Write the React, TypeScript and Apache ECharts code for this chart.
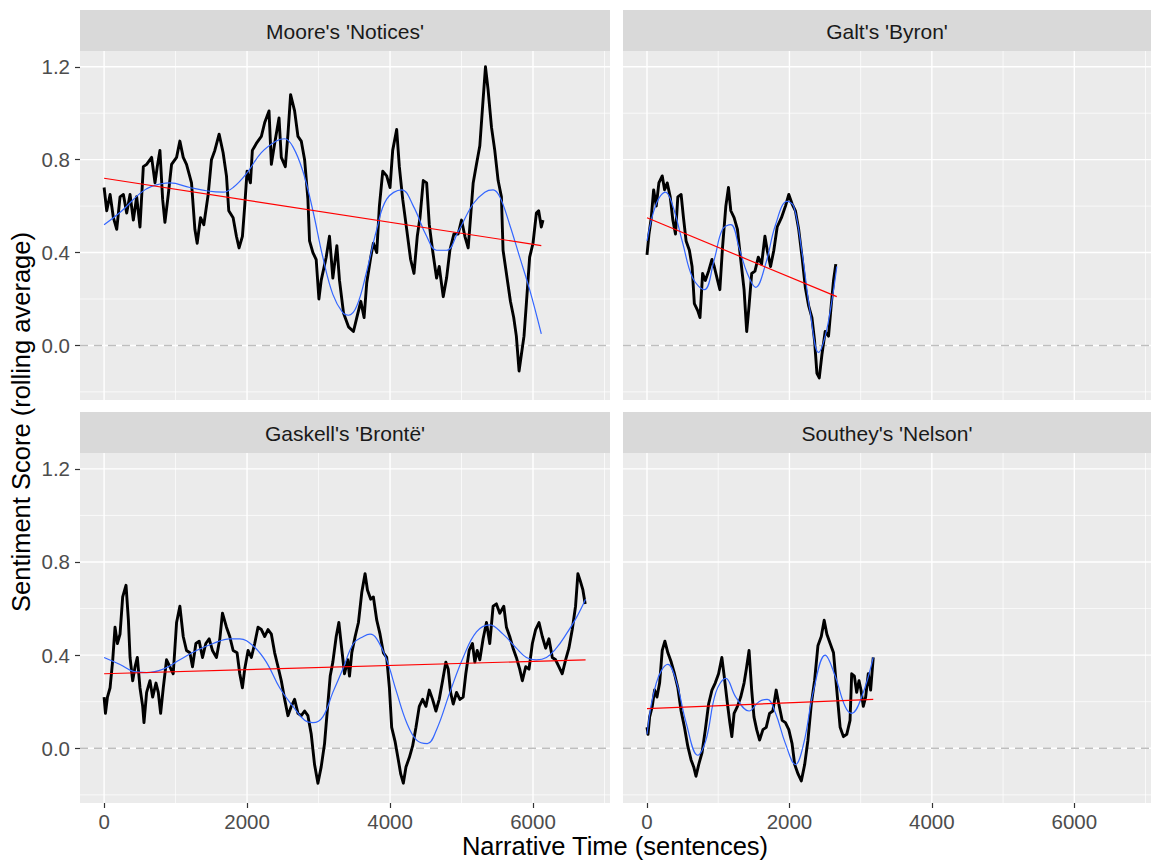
import React, { useEffect, useRef } from "react";
import * as echarts from "echarts";

type Pt = [number, number];

const panelTitles = ["Moore's 'Notices'", "Galt's 'Byron'", "Gaskell's 'Brontë'", "Southey's 'Nelson'"];
const xAxisTitle = "Narrative Time (sentences)";
const yAxisTitle = "Sentiment Score (rolling average)";

const xMajorTicks = [0, 2000, 4000, 6000];
const xMinorTicks = [1000, 3000, 5000, 7000];
const yMajorTicks = [0, 0.4, 0.8, 1.2];
const yMinorTicks = [-0.2, 0.2, 0.6, 1.0];
const X_MIN = -337;
const X_MAX = 7077;
const Y_MIN = -0.235;
const Y_MAX = 1.268;

// ---- Moore's 'Notices'
const mooreRolling: Pt[] = [
  [0, 0.68], [37, 0.58], [84, 0.65], [130, 0.55], [177, 0.5], [223, 0.64], [270, 0.65], [316, 0.57], [363, 0.65],
  [409, 0.54], [456, 0.64], [502, 0.51], [549, 0.77], [595, 0.78], [665, 0.81], [712, 0.7], [744, 0.77], [781, 0.84],
  [819, 0.63], [851, 0.53], [898, 0.65], [944, 0.78], [1014, 0.81], [1060, 0.88], [1107, 0.81], [1153, 0.78],
  [1223, 0.7], [1270, 0.5], [1302, 0.44], [1349, 0.55], [1395, 0.52], [1456, 0.65], [1502, 0.8], [1549, 0.84],
  [1609, 0.91], [1665, 0.83], [1712, 0.73], [1744, 0.58], [1805, 0.55], [1851, 0.47], [1888, 0.42], [1935, 0.47],
  [1967, 0.6], [2000, 0.75], [2047, 0.7], [2074, 0.84], [2130, 0.87], [2200, 0.9], [2247, 0.96], [2307, 1.01],
  [2340, 0.78], [2386, 0.87], [2447, 0.98], [2479, 0.81], [2535, 0.77], [2572, 0.91], [2609, 1.08], [2665, 1.01],
  [2712, 0.9], [2758, 0.88], [2805, 0.8], [2851, 0.63], [2874, 0.45], [2921, 0.4], [2967, 0.37], [3005, 0.2],
  [3037, 0.28], [3107, 0.38], [3153, 0.47], [3200, 0.29], [3256, 0.43], [3293, 0.28], [3349, 0.14], [3419, 0.08],
  [3488, 0.06], [3535, 0.12], [3591, 0.19], [3637, 0.12], [3674, 0.27], [3730, 0.38], [3767, 0.44], [3814, 0.4],
  [3851, 0.6], [3898, 0.75], [3953, 0.73], [4000, 0.68], [4037, 0.84], [4093, 0.93], [4130, 0.77], [4177, 0.63],
  [4233, 0.5], [4288, 0.37], [4335, 0.31], [4381, 0.47], [4419, 0.55], [4465, 0.71], [4512, 0.7], [4549, 0.52],
  [4595, 0.41], [4651, 0.29], [4688, 0.34], [4744, 0.21], [4791, 0.29], [4837, 0.41], [4893, 0.48], [4953, 0.48],
  [5000, 0.54], [5047, 0.47], [5093, 0.42], [5126, 0.55], [5163, 0.7], [5209, 0.78], [5256, 0.86], [5302, 1.06],
  [5335, 1.2], [5372, 1.1], [5419, 0.94], [5465, 0.84], [5512, 0.71], [5558, 0.64], [5581, 0.41], [5628, 0.31],
  [5684, 0.19], [5730, 0.12], [5767, 0.04], [5805, -0.11], [5837, -0.04], [5874, 0.04], [5907, 0.18], [5953, 0.38],
  [6000, 0.44], [6047, 0.57], [6079, 0.58], [6116, 0.51], [6140, 0.54],
];
const mooreLoess: Pt[] = [
  [0, 0.52], [250, 0.58], [502, 0.655], [665, 0.685], [921, 0.7], [1200, 0.68], [1450, 0.665], [1665, 0.66],
  [1805, 0.68], [1991, 0.74], [2200, 0.83], [2409, 0.88], [2526, 0.89], [2642, 0.855], [2781, 0.75], [2921, 0.58],
  [3060, 0.38], [3200, 0.22], [3340, 0.14], [3419, 0.13], [3535, 0.17], [3674, 0.32], [3814, 0.5], [3953, 0.63],
  [4163, 0.67], [4326, 0.6], [4512, 0.47], [4651, 0.41], [4791, 0.41], [4953, 0.49], [5163, 0.61], [5326, 0.66],
  [5442, 0.67], [5535, 0.64], [5674, 0.52], [5814, 0.38], [5953, 0.24], [6116, 0.05],
];
const mooreTrend: Pt[] = [[0, 0.72], [6116, 0.43]];

// ---- Galt's 'Byron'
const byronRolling: Pt[] = [
  [0, 0.39], [28, 0.48], [60, 0.55], [93, 0.67], [130, 0.6], [167, 0.7], [214, 0.73], [247, 0.67], [284, 0.7],
  [326, 0.64], [363, 0.54], [400, 0.48], [433, 0.64], [479, 0.65], [512, 0.55], [549, 0.45], [595, 0.41], [633, 0.34],
  [665, 0.18], [712, 0.15], [744, 0.12], [781, 0.31], [819, 0.28], [865, 0.32], [912, 0.37], [944, 0.34], [991, 0.28],
  [1023, 0.24], [1060, 0.42], [1107, 0.6], [1144, 0.68], [1177, 0.58], [1223, 0.55], [1270, 0.5], [1316, 0.37],
  [1363, 0.24], [1400, 0.06], [1433, 0.17], [1470, 0.31], [1516, 0.32], [1563, 0.38], [1609, 0.35], [1656, 0.47],
  [1688, 0.41], [1735, 0.34], [1781, 0.41], [1828, 0.51], [1888, 0.55], [1944, 0.6], [1991, 0.65], [2037, 0.61],
  [2084, 0.58], [2130, 0.5], [2177, 0.38], [2223, 0.25], [2270, 0.17], [2316, 0.12], [2353, 0.02], [2386, -0.12],
  [2419, -0.14], [2456, -0.04], [2502, 0.06], [2549, 0.04], [2586, 0.17], [2619, 0.28], [2651, 0.35],
];
const byronLoess: Pt[] = [
  [0, 0.45], [130, 0.61], [260, 0.66], [363, 0.6], [502, 0.44], [642, 0.29], [805, 0.24], [944, 0.37], [1060, 0.5],
  [1177, 0.52], [1293, 0.42], [1409, 0.31], [1526, 0.25], [1665, 0.35], [1805, 0.52], [1967, 0.62], [2060, 0.6],
  [2177, 0.4], [2293, 0.14], [2409, -0.03], [2502, 0.04], [2595, 0.19], [2665, 0.34],
];
const byronTrend: Pt[] = [[0, 0.55], [2665, 0.21]];

// ---- Gaskell's 'Brontë'
const gaskellRolling: Pt[] = [
  [0, 0.22], [19, 0.15], [47, 0.22], [84, 0.26], [121, 0.38], [153, 0.52], [186, 0.45], [223, 0.49], [260, 0.65],
  [307, 0.7], [340, 0.55], [363, 0.39], [400, 0.29], [433, 0.35], [465, 0.39], [502, 0.26], [540, 0.18], [558, 0.11],
  [595, 0.24], [642, 0.29], [679, 0.22], [726, 0.28], [758, 0.24], [791, 0.15], [828, 0.26], [874, 0.38], [921, 0.35],
  [967, 0.32], [1014, 0.54], [1060, 0.61], [1107, 0.48], [1153, 0.42], [1200, 0.41], [1237, 0.35], [1284, 0.45],
  [1330, 0.46], [1377, 0.39], [1423, 0.45], [1470, 0.47], [1516, 0.42], [1572, 0.39], [1619, 0.47], [1656, 0.58],
  [1712, 0.52], [1758, 0.48], [1805, 0.42], [1860, 0.41], [1898, 0.32], [1935, 0.26], [1967, 0.34], [2014, 0.42],
  [2060, 0.39], [2107, 0.45], [2153, 0.52], [2200, 0.51], [2247, 0.48], [2293, 0.51], [2340, 0.49], [2386, 0.41],
  [2433, 0.35], [2479, 0.29], [2526, 0.21], [2572, 0.14], [2619, 0.18], [2665, 0.21], [2712, 0.15], [2758, 0.14],
  [2805, 0.16], [2851, 0.14], [2898, 0.06], [2944, -0.07], [2991, -0.15], [3037, -0.08], [3084, 0.02], [3130, 0.19],
  [3163, 0.31], [3200, 0.37], [3247, 0.48], [3284, 0.54], [3316, 0.45], [3363, 0.32], [3409, 0.38], [3433, 0.31],
  [3465, 0.41], [3512, 0.48], [3558, 0.54], [3605, 0.67], [3651, 0.75], [3684, 0.68], [3730, 0.64], [3767, 0.65],
  [3814, 0.55], [3860, 0.49], [3907, 0.41], [3953, 0.39], [3991, 0.26], [4023, 0.09], [4070, 0.03], [4116, -0.05],
  [4149, -0.11], [4186, -0.15], [4223, -0.08], [4270, -0.04], [4316, 0.01], [4363, 0.09], [4409, 0.18], [4456, 0.21],
  [4502, 0.18], [4549, 0.25], [4595, 0.21], [4642, 0.16], [4688, 0.21], [4735, 0.29], [4781, 0.37], [4814, 0.34],
  [4847, 0.24], [4884, 0.19], [4930, 0.24], [4977, 0.21], [5023, 0.22], [5060, 0.32], [5107, 0.42], [5153, 0.45],
  [5186, 0.37], [5219, 0.42], [5256, 0.38], [5302, 0.47], [5349, 0.54], [5395, 0.45], [5442, 0.61], [5488, 0.62],
  [5535, 0.58], [5591, 0.61], [5628, 0.52], [5674, 0.48], [5721, 0.43], [5767, 0.39], [5814, 0.34], [5851, 0.29],
  [5898, 0.35], [5944, 0.34], [5991, 0.45], [6037, 0.51], [6084, 0.54], [6130, 0.48], [6177, 0.43], [6223, 0.47],
  [6270, 0.39], [6316, 0.38], [6363, 0.35], [6409, 0.32], [6456, 0.38], [6502, 0.43], [6549, 0.51], [6595, 0.61],
  [6628, 0.75], [6660, 0.72], [6698, 0.68], [6730, 0.62],
];
const gaskellLoess: Pt[] = [
  [0, 0.39], [223, 0.36], [409, 0.33], [595, 0.325], [828, 0.34], [1060, 0.38], [1293, 0.42], [1526, 0.45],
  [1758, 0.47], [1898, 0.47], [2084, 0.44], [2270, 0.37], [2456, 0.26], [2642, 0.18], [2805, 0.12], [2921, 0.11],
  [3060, 0.135], [3200, 0.24], [3340, 0.34], [3488, 0.45], [3628, 0.48], [3721, 0.49], [3814, 0.47], [3953, 0.38],
  [4093, 0.24], [4233, 0.11], [4372, 0.035], [4521, 0.02], [4651, 0.08], [4837, 0.24], [5023, 0.39], [5209, 0.5],
  [5395, 0.53], [5581, 0.49], [5767, 0.43], [5907, 0.39], [6047, 0.38], [6188, 0.39], [6326, 0.43], [6465, 0.49],
  [6605, 0.56], [6735, 0.64],
];
const gaskellTrend: Pt[] = [[0, 0.32], [6735, 0.38]];

// ---- Southey's 'Nelson'
const nelsonRolling: Pt[] = [
  [0, 0.09], [14, 0.06], [37, 0.135], [74, 0.18], [107, 0.25], [140, 0.22], [177, 0.28], [214, 0.42], [251, 0.46],
  [293, 0.41], [340, 0.37], [386, 0.32], [433, 0.26], [479, 0.16], [526, 0.09], [572, 0.01], [619, -0.05], [656, -0.08],
  [688, -0.12], [726, -0.07], [772, -0.02], [819, 0.08], [865, 0.19], [912, 0.25], [958, 0.28], [1005, 0.32],
  [1051, 0.39], [1084, 0.31], [1130, 0.19], [1163, 0.11], [1191, 0.05], [1223, 0.15], [1270, 0.18], [1316, 0.22],
  [1363, 0.28], [1395, 0.34], [1433, 0.42], [1470, 0.25], [1502, 0.135], [1540, 0.08], [1581, 0.035], [1628, 0.08],
  [1674, 0.09], [1721, 0.15], [1767, 0.16], [1814, 0.25], [1851, 0.19], [1898, 0.12], [1944, 0.11], [1991, 0.08],
  [2037, 0.02], [2074, -0.07], [2121, -0.11], [2167, -0.14], [2214, -0.07], [2260, 0.035], [2307, 0.19], [2353, 0.29],
  [2400, 0.44], [2447, 0.48], [2488, 0.55], [2526, 0.49], [2572, 0.45], [2619, 0.41], [2665, 0.25], [2712, 0.09],
  [2758, 0.05], [2805, 0.06], [2851, 0.12], [2874, 0.32], [2912, 0.31], [2944, 0.24], [2977, 0.29], [3005, 0.25],
  [3037, 0.18], [3070, 0.22], [3107, 0.32], [3140, 0.25], [3177, 0.39],
];
const nelsonLoess: Pt[] = [
  [0, 0.06], [130, 0.28], [293, 0.36], [409, 0.29], [549, 0.11], [712, -0.03], [828, 0.035], [967, 0.24],
  [1107, 0.3], [1247, 0.22], [1433, 0.16], [1572, 0.2], [1688, 0.21], [1805, 0.15], [1944, 0.02], [2084, -0.07],
  [2200, 0.02], [2340, 0.25], [2502, 0.4], [2642, 0.31], [2781, 0.18], [2874, 0.15], [3014, 0.22], [3177, 0.39],
];
const nelsonTrend: Pt[] = [[0, 0.17], [3177, 0.21]];

const rollingSets = [mooreRolling, byronRolling, gaskellRolling, nelsonRolling];
const loessSets = [mooreLoess, byronLoess, gaskellLoess, nelsonLoess];
const trendSets = [mooreTrend, byronTrend, gaskellTrend, nelsonTrend];

const FONT = "'Liberation Sans', Arial, Helvetica, sans-serif";
const TICK_FONT = 20.5;
const STRIP_FONT = 21;
const TITLE_FONT = 25.5;

const gridBoxes = [
  { left: 80, top: 51, width: 530, height: 349 },
  { left: 623, top: 51, width: 528, height: 349 },
  { left: 80, top: 453, width: 530, height: 350 },
  { left: 623, top: 453, width: 528, height: 350 },
];
const stripBoxes = [
  { x: 80, y: 10, w: 530, h: 41 },
  { x: 623, y: 10, w: 528, h: 41 },
  { x: 80, y: 412, w: 530, h: 41 },
  { x: 623, y: 412, w: 528, h: 41 },
];

function gridLineData() {
  const d: number[][] = [];
  xMajorTicks.forEach((v) => d.push([v, 0, 0]));
  xMinorTicks.forEach((v) => d.push([v, 0, 1]));
  yMajorTicks.forEach((v) => d.push([0, v, 2]));
  yMinorTicks.forEach((v) => d.push([0, v, 3]));
  d.push([0, 0, 4]);
  return d;
}

function renderGridLine(params: any, api: any) {
  const xv = api.value(0);
  const yv = api.value(1);
  const kind = api.value(2);
  let p1: number[];
  let p2: number[];
  if (kind < 2) {
    p1 = api.coord([xv, Y_MIN]);
    p2 = api.coord([xv, Y_MAX]);
  } else {
    p1 = api.coord([X_MIN, yv]);
    p2 = api.coord([X_MAX, yv]);
  }
  const shape = { x1: p1[0], y1: p1[1], x2: p2[0], y2: p2[1] };
  if (kind === 4) {
    return { type: "line", z2: 10, shape, style: { stroke: "#BEBEBE", lineWidth: 1.5, lineDash: [8, 6] } };
  }
  const major = kind === 0 || kind === 2;
  return { type: "line", shape, style: { stroke: "#FFFFFF", lineWidth: major ? 1.4 : 0.7 } };
}

export default function App() {
  const ref = useRef<HTMLDivElement>(null);

  useEffect(() => {
    if (!ref.current) return;
    document.body.style.margin = "0";
    const chart = echarts.init(ref.current, undefined, { renderer: "svg" });

    const xAxes = gridBoxes.map((_, i) => {
      const bottom = i >= 2;
      return {
        type: "value",
        gridIndex: i,
        min: X_MIN,
        max: X_MAX,
        axisLine: { show: false, onZero: false },
        splitLine: { show: false },
        axisTick: { show: bottom, customValues: xMajorTicks, length: 5, lineStyle: { color: "#333333", width: 1.2 } },
        axisLabel: {
          show: bottom,
          customValues: xMajorTicks,
          color: "#4D4D4D",
          fontSize: TICK_FONT,
          fontFamily: FONT,
          margin: 8,
          formatter: (v: number) => String(Math.round(v)),
        },
      };
    });
    const yAxes = gridBoxes.map((_, i) => {
      const left = i % 2 === 0;
      return {
        type: "value",
        gridIndex: i,
        min: Y_MIN,
        max: Y_MAX,
        axisLine: { show: false, onZero: false },
        splitLine: { show: false },
        axisTick: { show: left, customValues: yMajorTicks, length: 5, lineStyle: { color: "#333333", width: 1.2 } },
        axisLabel: {
          show: left,
          customValues: yMajorTicks,
          color: "#4D4D4D",
          fontSize: TICK_FONT,
          fontFamily: FONT,
          margin: 10,
          formatter: (v: number) => v.toFixed(1),
        },
      };
    });

    const series: any[] = [];
    gridBoxes.forEach((_, i) => {
      series.push({
        type: "custom",
        xAxisIndex: i,
        yAxisIndex: i,
        z: 1,
        silent: true,
        clip: false,
        encode: { x: 0, y: 1 },
        renderItem: renderGridLine,
        data: gridLineData(),
      });
      series.push({
        type: "line",
        xAxisIndex: i,
        yAxisIndex: i,
        z: 3,
        silent: true,
        showSymbol: false,
        symbol: "none",
        lineStyle: { color: "#000000", width: 2.9, join: "round" },
        data: rollingSets[i],
      });
      series.push({
        type: "line",
        xAxisIndex: i,
        yAxisIndex: i,
        z: 4,
        silent: true,
        showSymbol: false,
        symbol: "none",
        smooth: 0.4,
        lineStyle: { color: "#3366FF", width: 1.2 },
        data: loessSets[i],
      });
      series.push({
        type: "line",
        xAxisIndex: i,
        yAxisIndex: i,
        z: 5,
        silent: true,
        showSymbol: false,
        symbol: "none",
        lineStyle: { color: "#FF0000", width: 1.2 },
        data: trendSets[i],
      });
    });

    const graphics: any[] = [];
    stripBoxes.forEach((s, i) => {
      graphics.push({
        type: "rect",
        shape: { x: s.x, y: s.y, width: s.w, height: s.h },
        style: { fill: "#D9D9D9" },
        silent: true,
      });
      graphics.push({
        type: "text",
        x: s.x + s.w / 2,
        y: s.y + s.h / 2 + 0.5,
        style: {
          text: panelTitles[i],
          fill: "#1A1A1A",
          fontSize: STRIP_FONT,
          fontFamily: FONT,
          textAlign: "center",
          textVerticalAlign: "middle",
          align: "center",
          verticalAlign: "middle",
        },
        silent: true,
      });
    });
    graphics.push({
      type: "text",
      x: 615,
      y: 846,
      style: {
        text: xAxisTitle,
        fill: "#000000",
        fontSize: TITLE_FONT,
        fontFamily: FONT,
        textAlign: "center",
        textVerticalAlign: "middle",
        align: "center",
        verticalAlign: "middle",
      },
      silent: true,
    });
    graphics.push({
      type: "text",
      x: 21,
      y: 422,
      rotation: Math.PI / 2,
      style: {
        text: yAxisTitle,
        fill: "#000000",
        fontSize: TITLE_FONT,
        fontFamily: FONT,
        textAlign: "center",
        textVerticalAlign: "middle",
        align: "center",
        verticalAlign: "middle",
      },
      silent: true,
    });

    chart.setOption({
      animation: false,
      backgroundColor: "#FFFFFF",
      textStyle: { fontFamily: FONT },
      grid: gridBoxes.map((g) => ({
        ...g,
        show: true,
        backgroundColor: "#EBEBEB",
        borderWidth: 0,
        containLabel: false,
      })),
      xAxis: xAxes,
      yAxis: yAxes,
      series,
      graphic: graphics,
    });

    return () => {
      chart.dispose();
    };
  }, []);

  return (
    <div
      ref={ref}
      style={{ position: "absolute", left: 0, top: 0, width: 1151, height: 861 }}
    />
  );
}
